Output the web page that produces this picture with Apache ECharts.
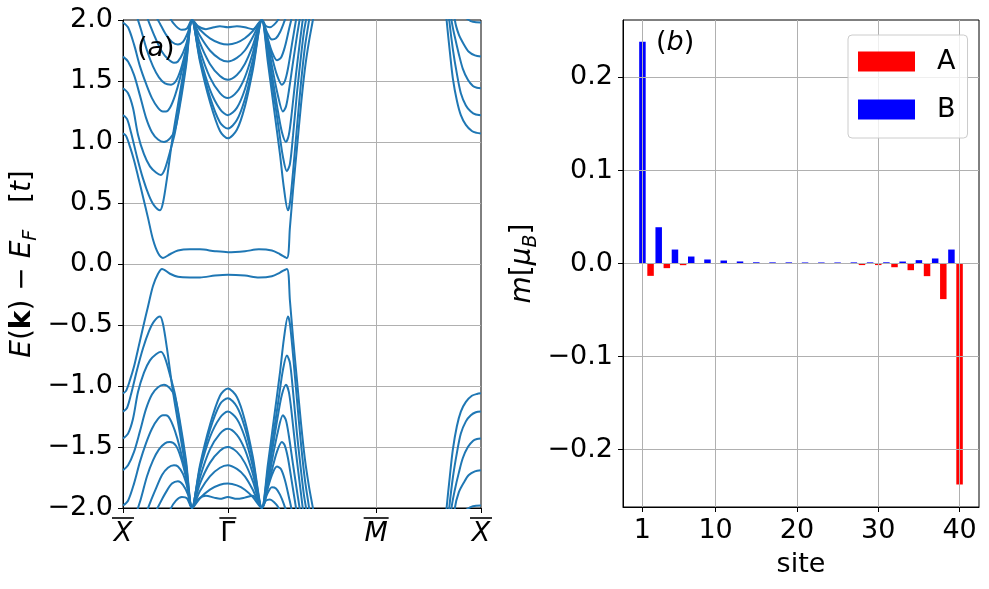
<!DOCTYPE html>
<html>
<head>
<meta charset="utf-8">
<script src="https://cdn.jsdelivr.net/npm/echarts@6/dist/echarts.min.js"></script>
<style>
html, body { margin: 0; padding: 0; background: #fff; }
#chart { width: 989px; height: 589px; }
</style>
</head>
<body>
<div id="chart"></div>
<script>
// ---------- (a) band structure, k along X-G-M-X, energies in t ----------
var kTicks = [0, 1, 2.4142, 3.4142];
var kTickLabels = ['X', 'Γ', 'M', 'X'];
var eTicks = [-2, -1.5, -1, -0.5, 0, 0.5, 1, 1.5, 2];

// upper bands (edge band first)
var bUp1 = [[0,1.07],[0.029,1.05],[0.067,0.96],[0.105,0.85],[0.143,0.72],[0.191,0.55],[0.238,0.38],[0.286,0.20],[0.334,0.09],[0.381,0.05],[0.448,0.08],[0.524,0.11],[0.639,0.12],[0.734,0.12],[0.877,0.105],[1.0,0.097],[1.163,0.105],[1.296,0.12],[1.420,0.11],[1.497,0.08],[1.563,0.05],[1.592,0.30],[1.621,0.60],[1.659,0.95],[1.697,1.30],[1.735,1.60],[1.773,1.82],[1.811,2.0],[1.840,2.15],[3.022,2.6],[3.086,2.0],[3.117,1.74],[3.146,1.52],[3.184,1.34],[3.222,1.22],[3.270,1.14],[3.327,1.09],[3.375,1.075],[3.413,1.07]];
var bUp2 = [[0,1.22],[0.038,1.19],[0.076,1.08],[0.133,0.88],[0.191,0.70],[0.248,0.56],[0.296,0.48],[0.353,0.44],[0.381,0.50],[0.419,0.70],[0.477,1.06],[0.543,1.40],[0.601,1.70],[0.658,2.0],[0.734,1.66],[0.829,1.33],[0.925,1.09],[1.0,1.03],[1.086,1.10],[1.162,1.29],[1.238,1.59],[1.325,2.0],[1.382,1.65],[1.439,1.28],[1.497,0.90],[1.535,0.62],[1.573,0.44],[1.592,0.50],[1.621,0.75],[1.659,1.12],[1.697,1.48],[1.735,1.78],[1.783,2.05],[1.811,2.3],[3.051,2.5],[3.111,2.0],[3.146,1.76],[3.184,1.56],[3.222,1.40],[3.270,1.30],[3.317,1.25],[3.365,1.225],[3.413,1.22]];
var bUp3 = [[0,1.44],[0.048,1.40],[0.095,1.28],[0.143,1.06],[0.200,0.90],[0.257,0.80],[0.315,0.75],[0.362,0.73],[0.400,0.78],[0.448,0.92],[0.496,1.08],[0.543,1.33],[0.601,1.65],[0.658,2.0],[0.734,1.68],[0.829,1.37],[0.925,1.16],[1.0,1.11],[1.086,1.18],[1.162,1.35],[1.238,1.62],[1.325,2.0],[1.382,1.70],[1.439,1.38],[1.487,1.10],[1.525,0.88],[1.563,0.76],[1.592,0.82],[1.621,1.05],[1.659,1.40],[1.697,1.70],[1.725,1.90],[1.754,2.05],[1.78,2.3],[3.079,2.5],[3.133,2.0],[3.165,1.86],[3.203,1.72],[3.241,1.60],[3.289,1.51],[3.337,1.46],[3.375,1.445],[3.413,1.44]];
var bUp4 = [[0,1.70],[0.048,1.66],[0.105,1.55],[0.162,1.38],[0.219,1.20],[0.276,1.08],[0.334,1.02],[0.391,1.0],[0.448,1.03],[0.496,1.10],[0.543,1.30],[0.601,1.62],[0.658,2.0],[0.734,1.70],[0.829,1.43],[0.925,1.27],[1.0,1.22],[1.086,1.28],[1.162,1.43],[1.238,1.67],[1.325,2.0],[1.382,1.75],[1.430,1.50],[1.478,1.25],[1.516,1.08],[1.554,1.0],[1.582,1.06],[1.611,1.25],[1.649,1.55],[1.687,1.82],[1.725,2.08],[1.75,2.3],[3.108,2.5],[3.165,2.0],[3.203,1.88],[3.251,1.80],[3.298,1.74],[3.356,1.71],[3.413,1.70]];
var bUp5 = [[0,1.98],[0.048,1.94],[0.105,1.80],[0.162,1.62],[0.219,1.48],[0.276,1.36],[0.334,1.28],[0.381,1.25],[0.410,1.25],[0.448,1.28],[0.496,1.38],[0.543,1.52],[0.601,1.74],[0.658,2.0],[0.734,1.75],[0.829,1.53],[0.925,1.40],[1.0,1.36],[1.086,1.41],[1.162,1.53],[1.238,1.73],[1.325,2.0],[1.382,1.80],[1.430,1.58],[1.478,1.38],[1.525,1.25],[1.554,1.29],[1.582,1.42],[1.621,1.65],[1.659,1.87],[1.687,2.02],[1.72,2.3],[3.165,2.5],[3.232,2.05],[3.279,2.01],[3.337,1.985],[3.413,1.98]];
var bUp6 = [[0,2.3],[0.067,2.2],[0.124,2.05],[0.172,1.92],[0.229,1.75],[0.286,1.62],[0.343,1.53],[0.400,1.48],[0.458,1.47],[0.505,1.50],[0.553,1.60],[0.601,1.76],[0.658,2.0],[0.734,1.81],[0.829,1.64],[0.925,1.54],[1.0,1.51],[1.086,1.55],[1.162,1.64],[1.238,1.79],[1.325,2.0],[1.373,1.86],[1.420,1.70],[1.468,1.55],[1.516,1.47],[1.544,1.50],[1.573,1.60],[1.611,1.80],[1.659,2.05],[1.70,2.3]];
var bUp7 = [[0.114,2.35],[0.219,2.05],[0.257,1.96],[0.315,1.84],[0.372,1.74],[0.429,1.68],[0.486,1.65],[0.524,1.66],[0.572,1.73],[0.620,1.85],[0.658,2.0],[0.734,1.87],[0.829,1.75],[0.925,1.68],[1.0,1.66],[1.086,1.69],[1.162,1.75],[1.238,1.86],[1.325,2.0],[1.373,1.87],[1.420,1.74],[1.468,1.67],[1.506,1.69],[1.544,1.78],[1.582,1.92],[1.611,2.03],[1.65,2.3]];
var bUp8 = [[0.162,2.5],[0.305,2.05],[0.353,1.97],[0.410,1.88],[0.467,1.82],[0.524,1.80],[0.572,1.82],[0.620,1.90],[0.658,2.0],[0.734,1.92],[0.829,1.85],[0.925,1.81],[1.0,1.80],[1.086,1.815],[1.162,1.85],[1.238,1.91],[1.325,2.0],[1.373,1.90],[1.420,1.84],[1.459,1.85],[1.497,1.90],[1.535,1.98],[1.563,2.05],[1.60,2.3]];
var bUp9 = [[0.353,2.3],[0.448,2.02],[0.505,1.95],[0.562,1.92],[0.610,1.93],[0.658,2.0],[0.715,1.95],[0.791,1.925],[0.868,1.94],[0.925,1.948],[1.0,1.94],[1.086,1.948],[1.162,1.94],[1.238,1.925],[1.277,1.95],[1.325,2.0],[1.363,1.95],[1.401,1.94],[1.439,1.96],[1.478,2.0],[1.506,2.05],[1.55,2.3]];

// lower bands (edge band first)
var bDn1 = [[0,-1.06],[0.029,-1.04],[0.067,-0.95],[0.105,-0.84],[0.143,-0.70],[0.191,-0.52],[0.238,-0.35],[0.286,-0.18],[0.334,-0.08],[0.372,-0.04],[0.448,-0.08],[0.524,-0.105],[0.639,-0.11],[0.734,-0.11],[0.877,-0.095],[1.0,-0.088],[1.163,-0.095],[1.296,-0.11],[1.420,-0.10],[1.497,-0.07],[1.563,-0.04],[1.592,-0.30],[1.621,-0.60],[1.659,-0.95],[1.697,-1.30],[1.735,-1.60],[1.773,-1.82],[1.811,-2.0],[1.840,-2.15],[3.022,-2.6],[3.086,-2.0],[3.117,-1.74],[3.146,-1.52],[3.184,-1.33],[3.222,-1.21],[3.270,-1.13],[3.327,-1.08],[3.375,-1.065],[3.413,-1.06]];
var bDn2 = [[0,-1.21],[0.038,-1.18],[0.076,-1.07],[0.133,-0.87],[0.191,-0.69],[0.248,-0.55],[0.296,-0.47],[0.353,-0.43],[0.381,-0.49],[0.419,-0.69],[0.477,-1.05],[0.543,-1.39],[0.601,-1.69],[0.658,-2.0],[0.734,-1.65],[0.829,-1.32],[0.925,-1.08],[1.0,-1.02],[1.086,-1.09],[1.162,-1.28],[1.238,-1.58],[1.325,-2.0],[1.382,-1.64],[1.439,-1.27],[1.497,-0.89],[1.535,-0.61],[1.573,-0.43],[1.592,-0.49],[1.621,-0.74],[1.659,-1.11],[1.697,-1.47],[1.735,-1.77],[1.783,-2.05],[1.811,-2.3],[3.051,-2.5],[3.111,-2.0],[3.146,-1.75],[3.184,-1.55],[3.222,-1.39],[3.270,-1.29],[3.317,-1.24],[3.365,-1.215],[3.413,-1.21]];
var bDn3 = [[0,-1.43],[0.048,-1.39],[0.095,-1.27],[0.143,-1.05],[0.200,-0.89],[0.257,-0.79],[0.315,-0.74],[0.362,-0.72],[0.400,-0.77],[0.448,-0.91],[0.496,-1.07],[0.543,-1.32],[0.601,-1.64],[0.658,-2.0],[0.734,-1.67],[0.829,-1.36],[0.925,-1.15],[1.0,-1.10],[1.086,-1.17],[1.162,-1.34],[1.238,-1.61],[1.325,-2.0],[1.382,-1.69],[1.439,-1.37],[1.487,-1.09],[1.525,-0.87],[1.563,-0.75],[1.592,-0.81],[1.621,-1.04],[1.659,-1.39],[1.697,-1.69],[1.725,-1.89],[1.754,-2.05],[1.78,-2.3],[3.079,-2.5],[3.133,-2.0],[3.165,-1.85],[3.203,-1.71],[3.241,-1.59],[3.289,-1.50],[3.337,-1.45],[3.375,-1.435],[3.413,-1.43]];
var bDn4 = [[0,-1.69],[0.048,-1.65],[0.105,-1.54],[0.162,-1.37],[0.219,-1.19],[0.276,-1.07],[0.334,-1.01],[0.391,-0.99],[0.448,-1.02],[0.496,-1.09],[0.543,-1.29],[0.601,-1.61],[0.658,-2.0],[0.734,-1.69],[0.829,-1.42],[0.925,-1.26],[1.0,-1.21],[1.086,-1.27],[1.162,-1.42],[1.238,-1.66],[1.325,-2.0],[1.382,-1.74],[1.430,-1.49],[1.478,-1.24],[1.516,-1.07],[1.554,-0.99],[1.582,-1.05],[1.611,-1.24],[1.649,-1.54],[1.687,-1.81],[1.725,-2.08],[1.75,-2.3],[3.108,-2.5],[3.165,-2.0],[3.203,-1.87],[3.251,-1.79],[3.298,-1.73],[3.356,-1.70],[3.413,-1.69]];
var bDn5 = [[0,-1.98],[0.048,-1.94],[0.105,-1.80],[0.162,-1.62],[0.219,-1.47],[0.276,-1.35],[0.334,-1.27],[0.381,-1.24],[0.410,-1.24],[0.448,-1.27],[0.496,-1.37],[0.543,-1.51],[0.601,-1.73],[0.658,-2.0],[0.734,-1.75],[0.829,-1.52],[0.925,-1.39],[1.0,-1.35],[1.086,-1.40],[1.162,-1.52],[1.238,-1.72],[1.325,-2.0],[1.382,-1.79],[1.430,-1.57],[1.478,-1.37],[1.525,-1.24],[1.554,-1.28],[1.582,-1.41],[1.621,-1.64],[1.659,-1.86],[1.687,-2.02],[1.72,-2.3],[3.165,-2.5],[3.232,-2.05],[3.279,-2.01],[3.337,-1.985],[3.413,-1.98]];
var bDn6 = [[0,-2.3],[0.067,-2.2],[0.124,-2.05],[0.172,-1.92],[0.229,-1.74],[0.286,-1.61],[0.343,-1.52],[0.400,-1.47],[0.448,-1.46],[0.505,-1.49],[0.553,-1.59],[0.601,-1.75],[0.658,-2.0],[0.734,-1.80],[0.829,-1.63],[0.925,-1.53],[1.0,-1.50],[1.086,-1.54],[1.162,-1.63],[1.238,-1.78],[1.325,-2.0],[1.373,-1.85],[1.420,-1.69],[1.468,-1.54],[1.516,-1.46],[1.544,-1.49],[1.573,-1.59],[1.611,-1.79],[1.659,-2.05],[1.70,-2.3]];
var bDn7 = [[0.114,-2.35],[0.219,-2.05],[0.257,-1.96],[0.315,-1.84],[0.372,-1.73],[0.429,-1.67],[0.486,-1.65],[0.524,-1.66],[0.572,-1.72],[0.620,-1.85],[0.658,-2.0],[0.734,-1.86],[0.829,-1.74],[0.925,-1.67],[1.0,-1.65],[1.086,-1.68],[1.162,-1.74],[1.238,-1.85],[1.325,-2.0],[1.373,-1.86],[1.420,-1.73],[1.468,-1.66],[1.506,-1.68],[1.544,-1.77],[1.582,-1.91],[1.611,-2.03],[1.65,-2.3]];
var bDn8 = [[0.162,-2.5],[0.305,-2.05],[0.353,-1.96],[0.410,-1.87],[0.467,-1.80],[0.524,-1.78],[0.572,-1.81],[0.620,-1.89],[0.658,-2.0],[0.734,-1.92],[0.829,-1.85],[0.925,-1.81],[1.0,-1.80],[1.086,-1.815],[1.162,-1.85],[1.238,-1.91],[1.325,-2.0],[1.373,-1.89],[1.420,-1.83],[1.459,-1.84],[1.497,-1.89],[1.535,-1.97],[1.563,-2.05],[1.60,-2.3]];
var bDn9 = [[0.353,-2.3],[0.448,-2.02],[0.505,-1.94],[0.562,-1.91],[0.610,-1.92],[0.658,-2.0],[0.715,-1.93],[0.791,-1.90],[0.868,-1.915],[0.925,-1.925],[1.0,-1.91],[1.086,-1.925],[1.162,-1.915],[1.238,-1.90],[1.277,-1.93],[1.325,-2.0],[1.363,-1.94],[1.401,-1.93],[1.439,-1.95],[1.478,-1.99],[1.506,-2.05],[1.55,-2.3]];

var bands = [bUp1, bUp2, bUp3, bUp4, bUp5, bUp6, bUp7, bUp8, bUp9,
             bDn1, bDn2, bDn3, bDn4, bDn5, bDn6, bDn7, bDn8, bDn9];

// ---------- (b) magnetic moment per site ----------
var sitesA = [2, 4, 6, 8, 10, 12, 14, 16, 18, 20, 22, 24, 26, 28, 30, 32, 34, 36, 38, 40];
var magA = [-0.0133, -0.0050, -0.0018, -0.0004, -0.0002, -0.0001, 0, 0, 0, 0,
            0, -0.0001, -0.0004, -0.0017, -0.0017, -0.0040, -0.0072, -0.0136, -0.0383, -0.2377];
var sitesB = [1, 3, 5, 7, 9, 11, 13, 15, 17, 19, 21, 23, 25, 27, 29, 31, 33, 35, 37, 39];
var magB = [0.2385, 0.0390, 0.0150, 0.0075, 0.0043, 0.0032, 0.0022, 0.0013, 0.0012, 0.0012,
            0.0011, 0.0011, 0.0011, 0.0012, 0.0012, 0.0013, 0.0021, 0.0036, 0.0054, 0.0150];
var siteTicks = [1, 10, 20, 30, 40];
var mTicks = [-0.2, -0.1, 0, 0.1, 0.2];

var FONT = 'DejaVu Sans';

function minus(v) {
    return v.toFixed(1).replace('-', '\u2212');
}

function pairs(xs, ys) {
    var out = [];
    for (var i = 0; i < xs.length; i++) {
        out.push([xs[i], ys[i]]);
    }
    return out;
}

// k tick label: overline bar + letter (X, M italic, Gamma upright)
function kLabel(v) {
    for (var i = 0; i < kTicks.length; i++) {
        if (Math.abs(kTicks[i] - v) < 1e-3) {
            var name = kTickLabels[i];
            var key = name === 'Γ' ? 'G' : name;
            return '{bar' + key + '| }\n{' + (key === 'G' ? 'up' : 'it') + '|' + name + '}';
        }
    }
    return '';
}

var myChart = echarts.init(document.getElementById('chart'));
myChart.setOption(getOptions());

function getOptions() {
    var tickStyle = { show: true, inside: false, length: 5, lineStyle: { color: '#000', width: 1 } };
    var gridLine = { show: true, lineStyle: { color: '#b0b0b0', width: 1 } };
    var labelStyle = { color: '#000', fontSize: 27, fontFamily: FONT };
    var spine = { show: true, onZero: false, lineStyle: { color: '#000', width: 1 } };

    var series = [];
    $each(bands, function(d) {
        series.push({
            type: 'line',
            xAxisIndex: 0,
            yAxisIndex: 0,
            data: d,
            showSymbol: false,
            symbol: 'none',
            smooth: 0.3,
            clip: true,
            silent: true,
            lineStyle: { color: '#1f77b4', width: 2 }
        });
    });
    series.push({
        name: 'A',
        type: 'bar',
        xAxisIndex: 1,
        yAxisIndex: 1,
        barWidth: 6.5,
        barGap: '-100%',
        itemStyle: { color: '#ff0000' },
        data: pairs(sitesA, magA)
    });
    series.push({
        name: 'B',
        type: 'bar',
        xAxisIndex: 1,
        yAxisIndex: 1,
        barWidth: 6.5,
        barGap: '-100%',
        itemStyle: { color: '#0000ff' },
        data: pairs(sitesB, magB)
    });

    var option = {
        animation: false,
        backgroundColor: '#fff',
        textStyle: { fontFamily: FONT },
        grid: [
            { left: 123, top: 20, width: 358, height: 488, show: true, borderColor: '#000', borderWidth: 1, backgroundColor: 'transparent' },
            { left: 623, top: 20, width: 356, height: 487, show: true, borderColor: '#000', borderWidth: 1, backgroundColor: 'transparent' }
        ],
        legend: {
            data: ['A', 'B'],
            orient: 'vertical',
            left: 848,
            top: 35,
            icon: 'rect',
            itemWidth: 57,
            itemHeight: 20,
            itemGap: 21,
            padding: [13, 12, 15, 10],
            backgroundColor: 'rgba(255,255,255,0.8)',
            borderColor: '#cccccc',
            borderWidth: 1,
            borderRadius: 4,
            textStyle: { color: '#000', fontSize: 27, fontFamily: FONT, lineHeight: 20, padding: [0, 0, 0, 17] }
        },
        xAxis: [
            {
                type: 'value',
                gridIndex: 0,
                min: 0,
                max: 3.4142,
                axisLine: spine,
                axisTick: $extend({ customValues: kTicks }, tickStyle),
                splitLine: $extend({ showMinLine: false, showMaxLine: false }, gridLine),
                axisLabel: {
                    customValues: kTicks,
                    showMinLabel: true,
                    showMaxLabel: true,
                    hideOverlap: false,
                    margin: 8,
                    formatter: kLabel,
                    rich: {
                        barX: { width: 22, height: 1.6, lineHeight: 4, backgroundColor: '#000' },
                        barG: { width: 17, height: 1.6, lineHeight: 4, backgroundColor: '#000' },
                        barM: { width: 25, height: 1.6, lineHeight: 4, backgroundColor: '#000' },
                        it: { fontSize: 27, fontStyle: 'italic', fontFamily: FONT, color: '#000', lineHeight: 27 },
                        up: { fontSize: 27, fontFamily: FONT, color: '#000', lineHeight: 27 }
                    }
                }
            },
            {
                type: 'value',
                gridIndex: 1,
                min: -1.39,
                max: 42.39,
                z: 3,
                name: 'site',
                nameLocation: 'middle',
                nameGap: 44,
                nameTextStyle: { color: '#000', fontSize: 27, fontFamily: FONT },
                axisLine: spine,
                axisTick: $extend({ customValues: siteTicks }, tickStyle),
                splitLine: gridLine,
                axisLabel: $extend({ customValues: siteTicks, margin: 10 }, labelStyle)
            }
        ],
        yAxis: [
            {
                type: 'value',
                gridIndex: 0,
                min: -2,
                max: 2,
                interval: 0.5,
                name: '{i|E}{r|(}{b|k}{r|) \u2212 }{i|E}{s|F}{r|   [}{i|t}{r|]}',
                nameLocation: 'middle',
                nameRotate: 90,
                nameGap: 82,
                nameTextStyle: {
                    color: '#000', fontSize: 28, fontFamily: FONT,
                    rich: {
                        i: { fontSize: 28, fontStyle: 'italic', fontFamily: FONT, color: '#000', lineHeight: 36 },
                        r: { fontSize: 28, fontFamily: FONT, color: '#000', lineHeight: 36 },
                        b: { fontSize: 28, fontWeight: 'bold', fontFamily: FONT, color: '#000', lineHeight: 36 },
                        s: { fontSize: 19, fontStyle: 'italic', fontFamily: FONT, color: '#000', lineHeight: 19, verticalAlign: 'bottom' }
                    }
                },
                axisLine: spine,
                axisTick: tickStyle,
                splitLine: $extend({ showMinLine: false, showMaxLine: false }, gridLine),
                axisLabel: $extend({ margin: 10, formatter: minus }, labelStyle)
            },
            {
                type: 'value',
                gridIndex: 1,
                min: -0.2618,
                max: 0.2618,
                z: 3,
                name: '{i|m}{r|[}{i|\u03bc}{s|B}{r|]}',
                nameLocation: 'middle',
                nameRotate: 90,
                nameGap: 82,
                nameTextStyle: {
                    color: '#000', fontSize: 28, fontFamily: FONT,
                    rich: {
                        i: { fontSize: 28, fontStyle: 'italic', fontFamily: FONT, color: '#000', lineHeight: 36 },
                        r: { fontSize: 28, fontFamily: FONT, color: '#000', lineHeight: 36 },
                        s: { fontSize: 19, fontStyle: 'italic', fontFamily: FONT, color: '#000', lineHeight: 19, verticalAlign: 'bottom' }
                    }
                },
                axisLine: spine,
                axisTick: $extend({ customValues: mTicks }, tickStyle),
                splitLine: gridLine,
                axisLabel: $extend({ customValues: mTicks, margin: 10, formatter: minus }, labelStyle)
            }
        ],
        graphic: [
            {
                type: 'text', left: 137, top: 35, z: 100,
                style: {
                    text: '{r|(}{i|a}{r|)}',
                    rich: {
                        r: { fontSize: 27, fontFamily: FONT, fill: '#000' },
                        i: { fontSize: 27, fontFamily: FONT, fontStyle: 'italic', fill: '#000' }
                    }
                }
            },
            {
                type: 'text', left: 656, top: 29, z: 100,
                style: {
                    text: '{r|(}{i|b}{r|)}',
                    rich: {
                        r: { fontSize: 27, fontFamily: FONT, fill: '#000' },
                        i: { fontSize: 27, fontFamily: FONT, fontStyle: 'italic', fill: '#000' }
                    }
                }
            }
        ],
        series: series
    };
    return option;
}

function $each(arr, fn) {
    for (var i = 0; i < arr.length; i++) fn(arr[i], i);
}
function $extend(a, b) {
    var o = {};
    for (var k in b) o[k] = b[k];
    for (var k2 in a) o[k2] = a[k2];
    return o;
}
</script>
</body>
</html>
